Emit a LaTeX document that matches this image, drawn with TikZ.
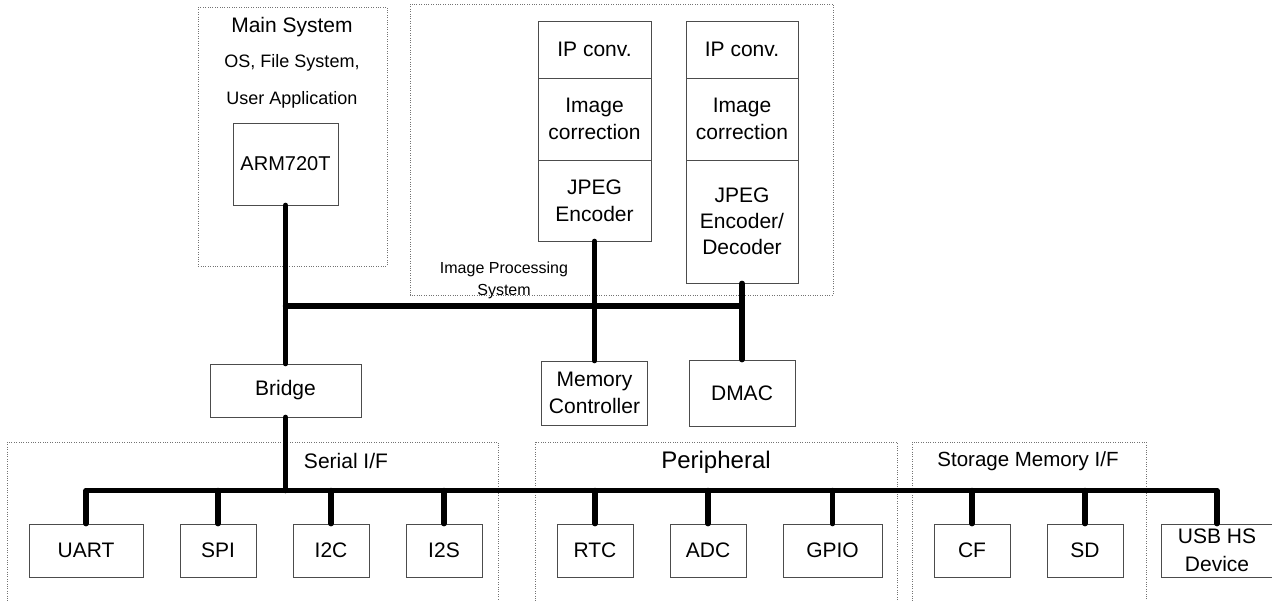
\documentclass[tikz,border=0pt]{standalone}
\usepackage{fontspec}
\setmainfont{Liberation Sans}
\begin{document}
\begin{tikzpicture}[x=1pt,y=-1pt,
  box/.style={draw=black!70, line width=0.8pt, inner sep=0pt, align=center, font=\fontsize{21}{27}\selectfont},
  grp/.style={draw=black!55, line width=0.8pt, dash pattern=on 0.8pt off 1.6pt},
  bus/.style={line width=5.5pt, line cap=round, line join=round},
  lbl/.style={inner sep=0pt, align=center}]
\useasboundingbox (0,0) rectangle (1272,600);
\clip (0,0) rectangle (1272,600);
\fill[white] (0,0) rectangle (1272,600);

% group frames
\draw[grp] (198,7) rectangle (387,266);
\draw[grp] (410,4) rectangle (833,295);
\draw[grp] (7,442) rectangle (498,610);
\draw[grp] (535,442) rectangle (897,610);
\draw[grp] (912,442) rectangle (1146,610);

% group labels
\node[lbl, font=\fontsize{21}{25}\selectfont] (mstitle) at (292,27) {Main System};
\node[lbl, font=\fontsize{18}{22}\selectfont] (mssub1) at (292,63) {OS, File System,};
\node[lbl, font=\fontsize{18}{22}\selectfont] (mssub2) at (292,100) {User Application};
\node[lbl, font=\fontsize{16}{22}\selectfont] (iptitle) at (504,280) {Image Processing\\System};
\node[lbl, font=\fontsize{21}{25}\selectfont] (sertitle) at (346,461) {Serial I/F};
\node[lbl, font=\fontsize{24}{28}\selectfont] (pertitle) at (716,462) {Peripheral};
\node[lbl, font=\fontsize{20.5}{25}\selectfont] (stotitle) at (1028,461) {Storage Memory I/F};

% main system
\node[box, minimum width=105, minimum height=82, font=\fontsize{20}{24}\selectfont] (arm) at (285.5,164) {ARM720T};

% image processing stacks
\node[box, minimum width=113, minimum height=57] (ipc1) at (594.5,49.5) {IP conv.};
\node[box, minimum width=113, minimum height=82] (imc1) at (594.5,119) {Image\\correction};
\node[box, minimum width=113, minimum height=81] (jpg1) at (594.5,200.5) {JPEG\\Encoder};
\node[box, minimum width=112, minimum height=57] (ipc2) at (742,49.5) {IP conv.};
\node[box, minimum width=112, minimum height=82] (imc2) at (742,119) {Image\\correction};
\node[box, minimum width=112, minimum height=123, font=\fontsize{21}{26}\selectfont] (jpg2) at (742,221.5) {JPEG\\Encoder/\\Decoder};

% middle row
\node[box, minimum width=151, minimum height=53] (bridge) at (285.5,390.5) {Bridge};
\node[box, minimum width=106, minimum height=64] (mem) at (594.5,393) {Memory\\Controller};
\node[box, minimum width=106, minimum height=66] (dmac) at (742,393) {DMAC};

% bottom row
\node[box, minimum width=114, minimum height=53] (uart) at (86,550.5) {UART};
\node[box, minimum width=76, minimum height=53] (spi) at (218,550.5) {SPI};
\node[box, minimum width=76, minimum height=53] (iic) at (331,550.5) {I2C};
\node[box, minimum width=76, minimum height=53] (iis) at (444,550.5) {I2S};
\node[box, minimum width=76, minimum height=53] (rtc) at (595,550.5) {RTC};
\node[box, minimum width=76, minimum height=53] (adc) at (708,550.5) {ADC};
\node[box, minimum width=99, minimum height=53] (gpio) at (832.5,550.5) {GPIO};
\node[box, minimum width=76, minimum height=53] (cf) at (972,550.5) {CF};
\node[box, minimum width=76, minimum height=53] (sd) at (1085,550.5) {SD};
\node[box, minimum width=112, minimum height=53, font=\fontsize{21}{28}\selectfont] (usb) at (1217,550.5) {USB HS\\Device};

% buses
\coordinate (mb) at (0,306);
\coordinate (pb) at (0,490.5);
\draw[bus] (arm.south) -- (bridge.north);
\draw[bus] (arm.south |- mb) -- (jpg2.south |- mb);
\draw[bus] (jpg1.south) -- (mem.north);
\draw[bus] (jpg2.south) -- (dmac.north);
\draw[bus] (bridge.south) -- (bridge.south |- pb);
\draw[bus] (uart.north) -- (uart.north |- pb) -- (usb.north |- pb) -- (usb.north);
\foreach \n in {spi,iic,iis,rtc,adc,gpio,cf,sd}
  \draw[bus] (\n.north) -- (\n.north |- pb);
\end{tikzpicture}
\end{document}
